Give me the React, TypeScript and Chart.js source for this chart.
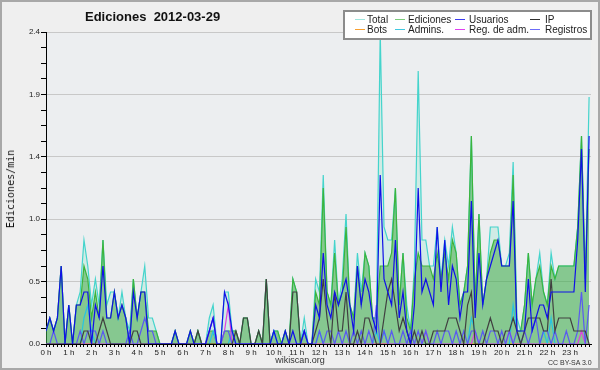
import React, { useEffect, useRef } from "react";
import { Chart, registerables } from "chart.js";

Chart.register(...registerables);

// Time axis: 144 ten-minute slots; labelled hours
const hourLabels = [
  "0 h", "1 h", "2 h", "3 h", "4 h", "5 h", "6 h", "7 h", "8 h", "9 h", "10 h", "11 h",
  "12 h", "13 h", "14 h", "15 h", "16 h", "17 h", "18 h", "19 h", "20 h", "21 h", "22 h", "23 h",
];
const yTickLabels = ["0.0", "0.5", "1.0", "1.4", "1.9", "2.4"];

// Values in edits/min, one row per hour (6 ten-minute slots)
const total = [
  0.1, 0.2, 0.1, 0.2, 0.6, 0,
  0.3, 0, 0.3, 0.4, 0.8, 0.6,
  0.3, 0.5, 0.3, 0.8, 0.3, 0.4,
  0.4, 0.2, 0.4, 0.2, 0.1, 0.5,
  0.2, 0.4, 0.6, 0.2, 0.2, 0.1,
  0, 0, 0, 0, 0.1, 0,
  0, 0, 0.1, 0, 0.1, 0,
  0, 0.2, 0.3, 0, 0, 0.4,
  0.4, 0.1, 0.1, 0, 0.2, 0.2,
  0, 0, 0.1, 0, 0.5, 0,
  0.1, 0.1, 0, 0.1, 0, 0.5,
  0.4, 0, 0.2, 0, 0, 0.5,
  0.4, 1.3, 0.4, 0.3, 0.8, 0.3,
  0.5, 1.0, 0.3, 0.2, 0.7, 0.4,
  0.7, 0.6, 0.2, 0.2, 2.4, 0.9,
  0.8, 0.8, 1.2, 0.3, 0.7, 0.3,
  0.1, 0.6, 2.1, 0.8, 0.8, 0.6,
  0.6, 0.9, 0.5, 0.8, 0.6, 0.9,
  0.7, 0.3, 0.4, 0.6, 1.6, 0.3,
  1.0, 0.3, 0.5, 0.9, 0.9, 0.9,
  0.6, 0.6, 0.7, 1.4, 0.2, 0.1,
  0.3, 0.7, 0.3, 0.5, 0.7, 0.4,
  0.3, 0.7, 0.5, 0.6, 0.6, 0.6,
  0.6, 0.6, 0.9, 1.6, 0.5, 1.9,
];

const ediciones = [
  0.1, 0.2, 0.1, 0.2, 0.6, 0,
  0.3, 0, 0.3, 0.3, 0.6, 0.5,
  0.2, 0.4, 0.2, 0.8, 0.2, 0.2,
  0.4, 0.2, 0.3, 0.2, 0, 0.5,
  0.2, 0.4, 0.4, 0.1, 0.1, 0.1,
  0, 0, 0, 0, 0.1, 0,
  0, 0, 0.1, 0, 0.1, 0,
  0, 0.1, 0.1, 0, 0, 0.1,
  0.1, 0.1, 0.1, 0, 0.2, 0.2,
  0, 0, 0.1, 0, 0.5, 0,
  0.1, 0.1, 0, 0.1, 0, 0.5,
  0.4, 0, 0.1, 0, 0, 0.4,
  0.3, 1.2, 0.4, 0.3, 0.7, 0.3,
  0.4, 0.9, 0.3, 0.2, 0.6, 0.3,
  0.7, 0.6, 0.2, 0.2, 0.6, 0.6,
  0.6, 0.7, 1.2, 0.3, 0.7, 0.2,
  0.1, 0.5, 0.7, 0.6, 0.6, 0.6,
  0.5, 0.7, 0.5, 0.7, 0.5, 0.8,
  0.7, 0.3, 0.4, 0.6, 1.6, 0.3,
  1.0, 0.3, 0.5, 0.7, 0.8, 0.8,
  0.6, 0.6, 0.6, 1.3, 0.1, 0.1,
  0.3, 0.7, 0.3, 0.5, 0.6, 0.4,
  0.3, 0.6, 0.5, 0.6, 0.6, 0.6,
  0.6, 0.6, 0.9, 1.6, 0.5, 1.5,
];

const usuarios = [
  0.1, 0.2, 0.1, 0.2, 0.6, 0,
  0.3, 0, 0.3, 0.3, 0.4, 0.4,
  0, 0.3, 0.2, 0.6, 0.2, 0.2,
  0.4, 0.2, 0.3, 0.2, 0, 0.4,
  0.2, 0.4, 0.4, 0, 0, 0,
  0, 0, 0, 0, 0.1, 0,
  0, 0, 0.1, 0, 0, 0,
  0, 0.1, 0.2, 0, 0, 0.4,
  0.3, 0.1, 0, 0, 0, 0,
  0, 0, 0, 0, 0, 0,
  0.1, 0, 0, 0.1, 0, 0.1,
  0, 0, 0.1, 0, 0, 0.3,
  0.2, 0.7, 0.3, 0.2, 0.4, 0.3,
  0.4, 0.5, 0.3, 0.1, 0.6, 0.3,
  0.5, 0.4, 0.2, 0.1, 1.3, 0.5,
  0.4, 0.3, 0.8, 0.2, 0.4, 0.1,
  0, 0.3, 1.2, 0.4, 0.5, 0.4,
  0.3, 0.9, 0.4, 0.8, 0.3, 0.6,
  0.5, 0.2, 0.4, 0.4, 1.1, 0.2,
  0.7, 0.3, 0.5, 0.6, 0.7, 0.8,
  0.6, 0.6, 0.6, 1.1, 0.1, 0.1,
  0.1, 0.5, 0.1, 0.2, 0.3, 0.3,
  0.2, 0.4, 0.4, 0.4, 0.4, 0.4,
  0.4, 0.4, 0.8, 1.5, 0.4, 1.6,
];

const ip = [
  0, 0, 0, 0, 0, 0,
  0, 0, 0, 0, 0.1, 0.1,
  0, 0, 0.1, 0.2, 0.1, 0,
  0, 0, 0, 0, 0, 0.1,
  0.1, 0, 0, 0, 0, 0,
  0, 0, 0, 0, 0, 0,
  0, 0, 0, 0, 0.1, 0,
  0, 0, 0, 0, 0, 0,
  0, 0, 0.1, 0, 0.2, 0.2,
  0, 0, 0.1, 0, 0.5, 0,
  0, 0, 0, 0, 0, 0.4,
  0.4, 0, 0, 0, 0, 0.1,
  0.2, 0.5, 0.2, 0, 0.4, 0.1,
  0.1, 0.4, 0, 0, 0.1, 0,
  0.2, 0.2, 0.1, 0, 0, 0.2,
  0.4, 0.5, 0.3, 0.1, 0.2, 0.1,
  0, 0.1, 0, 0.1, 0, 0,
  0.1, 0.1, 0.1, 0.1, 0.2, 0.2,
  0.2, 0.1, 0, 0.3, 0.4, 0,
  0, 0, 0.1, 0.2, 0.1, 0.1,
  0, 0.1, 0.1, 0.2, 0.1, 0,
  0.1, 0.2, 0.2, 0.2, 0.2, 0.1,
  0.1, 0.5, 0.1, 0.2, 0.2, 0.2,
  0.2, 0.1, 0.1, 0.1, 0.1, 0,
];

const bots = [
  0, 0, 0, 0, 0, 0,
  0, 0, 0, 0, 0, 0,
  0, 0, 0, 0, 0, 0,
  0, 0, 0, 0, 0, 0,
  0, 0, 0, 0, 0, 0,
  0, 0, 0, 0, 0, 0,
  0, 0, 0, 0, 0, 0,
  0, 0, 0, 0, 0, 0,
  0, 0, 0, 0, 0, 0,
  0, 0, 0, 0, 0, 0,
  0, 0, 0, 0, 0, 0,
  0, 0, 0, 0, 0, 0,
  0, 0, 0, 0, 0, 0,
  0, 0, 0, 0, 0, 0,
  0, 0, 0, 0, 0, 0,
  0, 0, 0, 0, 0, 0,
  0, 0, 0, 0, 0, 0,
  0, 0, 0, 0, 0, 0,
  0, 0, 0, 0, 0, 0,
  0, 0, 0, 0, 0, 0,
  0, 0, 0, 0, 0, 0,
  0, 0, 0, 0, 0, 0,
  0, 0, 0, 0, 0, 0,
  0, 0, 0, 0, 0, 0,
];

const admins = [
  0, 0, 0, 0, 0, 0,
  0, 0, 0, 0, 0.2, 0.3,
  0.1, 0, 0, 0, 0, 0,
  0, 0, 0, 0, 0, 0,
  0, 0, 0, 0, 0, 0,
  0, 0, 0, 0, 0, 0,
  0, 0, 0, 0, 0, 0,
  0, 0, 0.1, 0, 0, 0,
  0, 0.1, 0, 0, 0, 0,
  0, 0, 0, 0, 0, 0,
  0.1, 0, 0, 0, 0, 0,
  0, 0, 0.1, 0, 0, 0,
  0.1, 0, 0, 0, 0, 0,
  0, 0, 0, 0, 0, 0,
  0, 0, 0, 0.1, 0, 0.1,
  0, 0, 0, 0, 0, 0,
  0, 0, 0, 0, 0, 0,
  0, 0, 0, 0, 0, 0,
  0, 0, 0, 0, 0.2, 0.1,
  0, 0, 0, 0, 0, 0,
  0, 0, 0, 0.3, 0.1, 0,
  0, 0, 0, 0, 0, 0.1,
  0, 0.2, 0, 0, 0, 0,
  0, 0, 0, 0, 0, 0,
];

const regAdm = [
  0, 0, 0, 0, 0, 0,
  0, 0, 0, 0, 0, 0,
  0, 0, 0, 0, 0, 0,
  0, 0, 0, 0, 0, 0,
  0, 0, 0, 0, 0, 0,
  0, 0, 0, 0, 0, 0,
  0, 0, 0, 0, 0, 0,
  0, 0.1, 0.2, 0, 0, 0.1,
  0.3, 0, 0, 0, 0, 0,
  0, 0, 0, 0, 0, 0,
  0, 0, 0, 0, 0, 0,
  0, 0, 0, 0, 0, 0,
  0, 0, 0, 0, 0, 0,
  0, 0, 0, 0, 0, 0,
  0, 0, 0, 0, 0, 0,
  0, 0, 0, 0, 0, 0,
  0, 0, 0, 0, 0.1, 0,
  0, 0, 0, 0, 0, 0,
  0, 0, 0, 0, 0, 0.1,
  0, 0, 0, 0, 0, 0,
  0, 0, 0.1, 0, 0, 0,
  0, 0, 0, 0, 0, 0,
  0, 0, 0, 0, 0, 0,
  0, 0, 0, 0.1, 0, 0,
];

const registros = [
  0, 0, 0.1, 0, 0, 0,
  0, 0, 0, 0.1, 0, 0.1,
  0.1, 0.1, 0, 0.1, 0, 0,
  0, 0, 0, 0, 0.1, 0,
  0, 0.1, 0.2, 0.1, 0.1, 0,
  0, 0, 0, 0, 0, 0,
  0, 0, 0, 0, 0, 0,
  0, 0.1, 0.2, 0, 0, 0.1,
  0.1, 0, 0, 0, 0, 0,
  0, 0, 0, 0, 0, 0,
  0, 0, 0, 0, 0, 0,
  0, 0, 0.1, 0, 0, 0,
  0.1, 0, 0.1, 0.1, 0, 0.1,
  0, 0.1, 0, 0.1, 0, 0.1,
  0, 0.1, 0, 0.3, 0, 0.1,
  0, 0.1, 0, 0, 0.1, 0,
  0.1, 0, 0.1, 0, 0.1, 0,
  0, 0.1, 0, 0.1, 0.1, 0,
  0.1, 0, 0.1, 0, 0.1, 0.1,
  0, 0.1, 0, 0.1, 0.1, 0,
  0.1, 0, 0.1, 0, 0.1, 0,
  0.1, 0, 0.1, 0.2, 0, 0.1,
  0.1, 0, 0.1, 0, 0, 0.1,
  0, 0, 0.1, 0.4, 0, 0.3,
];

const legendItems = [
  { label: "Total", color: "#9ee6de" },
  { label: "Ediciones", color: "#7ccc7c" },
  { label: "Usuarios", color: "#3c3cf0" },
  { label: "IP", color: "#303030" },
  { label: "Bots", color: "#f8a030" },
  { label: "Admins.", color: "#40c8e0" },
  { label: "Reg. de adm.", color: "#e040f0" },
  { label: "Registros", color: "#6c6cf8" },
];

const legendCols = [
  { line: 355, text: 367 },
  { line: 395, text: 408 },
  { line: 455, text: 469 },
  { line: 530, text: 545 },
];

export default function App() {
  const ref = useRef<HTMLCanvasElement>(null);

  useEffect(() => {
    document.body.style.margin = "0";
    const canvas = ref.current;
    if (!canvas) return;
    const pts = (arr: number[]) => arr.map((v, i) => ({ x: i, y: v }));
    const plotBg = {
      id: "plotBg",
      beforeDraw(chart: any) {
        const { ctx, chartArea: a } = chart;
        ctx.save();
        ctx.fillStyle = "#eceef0";
        ctx.fillRect(a.left, a.top, a.right - a.left, a.bottom - a.top);
        ctx.restore();
      },
    };
    const line = (label: string, data: number[], color: string, order: number, extra: any = {}) => ({
      label,
      data: pts(data),
      borderColor: color,
      backgroundColor: color,
      borderWidth: 1.2,
      pointRadius: 0,
      tension: 0,
      fill: false,
      order,
      ...extra,
    });
    const chart = new Chart(canvas, {
      type: "line",
      data: {
        datasets: [
          line("Total", total, "#44d4cc", 7, { fill: "origin", backgroundColor: "rgba(64,224,176,0.16)" }),
          line("Ediciones", ediciones, "#3cb43c", 6, { fill: "origin", backgroundColor: "rgba(60,165,60,0.5)" }),
          line("Usuarios", usuarios, "#1010e8", 0),
          line("IP", ip, "#404040", 1),
          line("Bots", bots, "#ffa500", 8),
          line("Admins.", admins, "#28c4e0", 4),
          line("Reg. de adm.", regAdm, "#e040e0", 3),
          line("Registros", registros, "#5a5af0", 2),
        ] as any,
      },
      options: {
        animation: false,
        responsive: false,
        events: [],
        layout: { padding: { left: 0, top: 32, right: 9, bottom: 0 } },
        plugins: {
          legend: { display: false },
          tooltip: { enabled: false },
          filler: { drawTime: "beforeDatasetsDraw" },
        } as any,
        scales: {
          x: {
            type: "linear",
            min: 0,
            max: 143.5,
            z: 1,
            afterFit: (s: any) => {
              s.height = 26;
            },
            grid: { drawOnChartArea: false, tickLength: 3, tickColor: "#000", tickWidth: 1 },
            border: { color: "#000", width: 1 },
            ticks: {
              stepSize: 1,
              autoSkip: false,
              maxRotation: 0,
              minRotation: 0,
              includeBounds: false,
              maxTicksLimit: 1000,
              padding: 1,
              color: "#222",
              font: { family: "Liberation Sans", size: 8 },
              callback: (v: any) => (Number(v) % 6 === 0 ? hourLabels[Number(v) / 6] : ""),
            },
          },
          y: {
            type: "linear",
            min: 0,
            max: 2.4,
            afterFit: (s: any) => {
              s.width = 46;
            },
            grid: {
              color: (c: any) => (c.index % 4 === 0 ? "#c8c8c8" : "rgba(0,0,0,0)"),
              tickColor: "#000",
              tickLength: 5,
              lineWidth: 1,
            },
            border: { color: "#000", width: 1 },
            ticks: {
              stepSize: 0.12,
              autoSkip: false,
              maxTicksLimit: 1000,
              padding: 1,
              color: "#222",
              font: { family: "Liberation Sans", size: 8 },
              callback: (_v: any, i: number) => (i % 4 === 0 ? yTickLabels[i / 4] : ""),
            },
          },
        },
      } as any,
      plugins: [plotBg],
    });
    return () => chart.destroy();
  }, []);

  return (
    <div
      style={{
        position: "relative",
        width: 600,
        height: 370,
        background: "#efefef",
        overflow: "hidden",
        fontFamily: "Liberation Sans, sans-serif",
      }}
    >
      <style>{`body{margin:0}`}</style>
      <canvas
        ref={ref}
        width={600}
        height={370}
        style={{ position: "absolute", left: 0, top: 0, width: 600, height: 370 }}
      />
      <div
        style={{
          position: "absolute",
          left: 85,
          top: 10,
          fontSize: 13,
          lineHeight: "13px",
          fontWeight: "bold",
          whiteSpace: "pre",
          color: "#111",
        }}
      >
        {"Ediciones  2012-03-29"}
      </div>
      <div
        style={{
          position: "absolute",
          left: 11,
          top: 189,
          transform: "translate(-50%, -50%) rotate(-90deg)",
          fontFamily: "DejaVu Sans Mono, monospace",
          fontSize: 10,
          lineHeight: "10px",
          whiteSpace: "pre",
          color: "#111",
        }}
      >
        Ediciones/min
      </div>
      <div
        style={{
          position: "absolute",
          left: 343,
          top: 10,
          width: 249,
          height: 30,
          boxSizing: "border-box",
          border: "2px solid #8c8c8c",
          background: "#fff",
        }}
      />
      {legendItems.map((it, k) => {
        const col = legendCols[k % 4];
        const row = Math.floor(k / 4);
        const lineY = row === 0 ? 19 : 29;
        const textTop = row === 0 ? 15 : 25;
        return (
          <React.Fragment key={it.label}>
            <div
              style={{
                position: "absolute",
                left: col.line,
                top: lineY,
                width: 10,
                height: 1,
                background: it.color,
              }}
            />
            <div
              style={{
                position: "absolute",
                left: col.text,
                top: textTop,
                fontSize: 10,
                lineHeight: "10px",
                whiteSpace: "pre",
                color: "#222",
              }}
            >
              {it.label}
            </div>
          </React.Fragment>
        );
      })}
      <div
        style={{
          position: "absolute",
          left: 250,
          width: 100,
          top: 356,
          textAlign: "center",
          fontSize: 9,
          lineHeight: "9px",
          color: "#333",
        }}
      >
        wikiscan.org
      </div>
      <div
        style={{
          position: "absolute",
          left: 548,
          top: 359,
          fontSize: 7,
          lineHeight: "7px",
          whiteSpace: "pre",
          color: "#333",
        }}
      >
        CC BY-SA 3.0
      </div>
      <div
        style={{
          position: "absolute",
          left: 0,
          top: 0,
          width: 600,
          height: 370,
          boxSizing: "border-box",
          border: "2px solid #a8a8a8",
          pointerEvents: "none",
        }}
      />
    </div>
  );
}
